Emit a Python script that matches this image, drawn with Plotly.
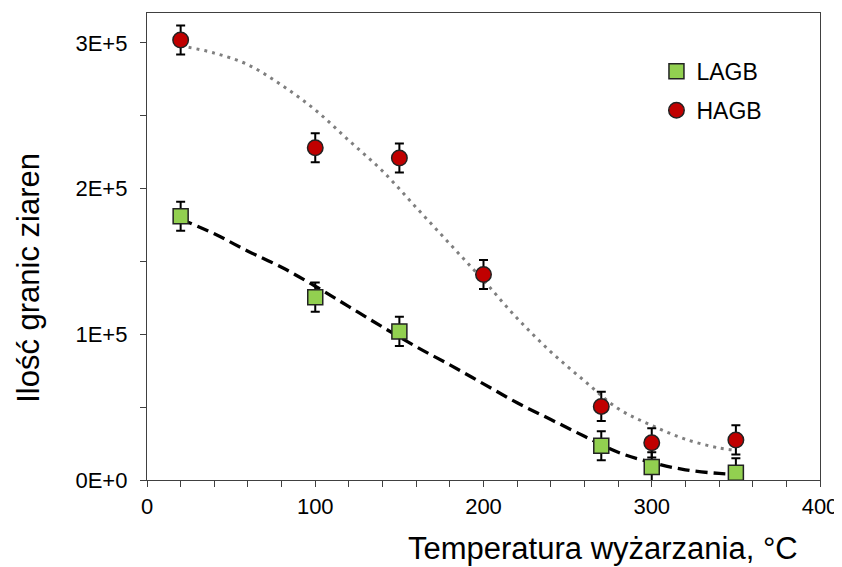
import plotly.graph_objects as go

# Measured points
lagb_x = [20, 100, 150, 270, 300, 350]
lagb_y = [181000, 125500, 102000, 23500, 9000, 5000]
hagb_x = [20, 100, 150, 200, 270, 300, 350]
hagb_y = [302000, 228000, 221000, 141000, 50500, 25500, 27500]
err_val = 10000

# Trend lines
fit_x = [20, 40, 60, 80, 100, 120, 140, 160, 180, 200, 220, 240, 260, 280, 300, 320, 340, 350]
hagb_fit = [298000, 293000, 285000, 271000, 254000, 233000, 212000, 187000, 162000, 137000,
            111000, 88000, 68000, 49000, 37500, 28000, 22000, 20500]
lagb_fit = [179000, 169000, 157000, 146000, 133000, 119000, 105000, 91500, 79000, 66000,
            53000, 41500, 30000, 19000, 12000, 7000, 4500, 4000]

y_tickvals = [0, 100000, 200000, 300000]
y_ticktext = ["0E+0", "1E+5", "2E+5", "3E+5"]
x_tickvals = [0, 100, 200, 300, 400]

FONT = "Liberation Sans, Arial, sans-serif"
AX = "#404040"

fig = go.Figure()
fig.add_trace(go.Scatter(x=fit_x, y=hagb_fit, mode="lines",
                         line=dict(color="#7f7f7f", width=3, dash="3px,5px", shape="spline"),
                         showlegend=False, hoverinfo="skip"))
fig.add_trace(go.Scatter(x=fit_x, y=lagb_fit, mode="lines",
                         line=dict(color="black", width=3.3, dash="12px,6px", shape="spline"),
                         showlegend=False, hoverinfo="skip"))
fig.add_trace(go.Scatter(x=lagb_x, y=lagb_y, mode="markers", name="LAGB", legendgroup="a",
                         marker=dict(symbol="square", size=15, color="#92D050", line=dict(color="#222", width=1.5)),
                         error_y=dict(type="constant", value=err_val, color="black", thickness=2, width=4.5)))
fig.add_trace(go.Scatter(x=hagb_x, y=hagb_y, mode="markers", name="HAGB", legendgroup="b",
                         marker=dict(symbol="circle", size=15.5, color="#C00000", line=dict(color="#222", width=1.5)),
                         error_y=dict(type="constant", value=err_val, color="black", thickness=2, width=4.5)))

fig.update_layout(
    width=834, height=559,
    margin=dict(l=139, r=20, t=4, b=87),
    paper_bgcolor="white", plot_bgcolor="white",
    font=dict(family=FONT, size=22, color="black"),
    showlegend=True,
    legend=dict(x=0.757, y=0.921, xanchor="left", yanchor="top", bgcolor="rgba(0,0,0,0)",
                font=dict(size=23, family=FONT), traceorder="grouped", tracegroupgap=6,
                itemwidth=30),
    xaxis=dict(range=[0, 400], tickvals=x_tickvals, showline=True, linecolor=AX, linewidth=1.3,
               mirror=True, ticks="outside", ticklen=6, tickcolor=AX, showgrid=False, zeroline=False,
               tickfont=dict(size=22, family=FONT),
               minor=dict(dtick=20, ticks="outside", ticklen=6, tickcolor=AX, showgrid=False)),
    yaxis=dict(range=[0, 320500], tickvals=y_tickvals, ticktext=y_ticktext, showline=True, linecolor=AX,
               linewidth=1.3, mirror=True, ticks="outside", ticklen=6, tickcolor=AX, showgrid=False,
               zeroline=False, tickfont=dict(size=22, family=FONT), ticklabelstandoff=8,
               minor=dict(dtick=50000, ticks="outside", ticklen=6, tickcolor=AX, showgrid=False)),
    annotations=[
        dict(text="Temperatura wyżarzania, °C", xref="paper", yref="paper", x=0.677, y=-0.147,
             xanchor="center", yanchor="middle", showarrow=False, font=dict(size=31, family=FONT)),
        dict(text="Ilość granic ziaren", xref="paper", yref="paper", x=-0.176, y=0.432,
             xanchor="center", yanchor="middle", textangle=-90, showarrow=False, font=dict(size=31, family=FONT)),
    ],
)

fig.write_html("out.html")
